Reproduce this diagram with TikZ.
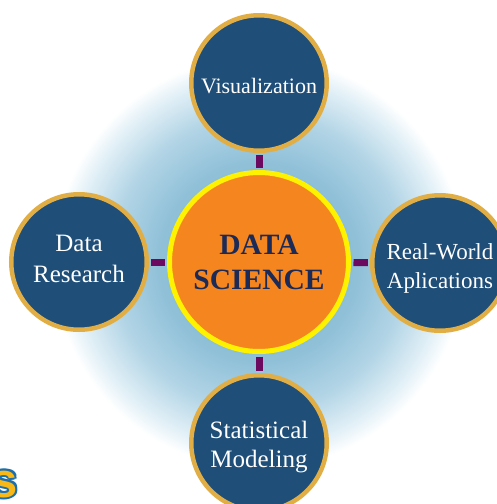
\documentclass[tikz,border=0pt]{standalone}
\usepackage{fontspec}
\setmainfont{Liberation Serif}
\newfontfamily\sansbold{Liberation Sans}[BoldFont={Liberation Sans Bold}]
\definecolor{nodeblue}{HTML}{1F4E78}
\definecolor{ringgold}{HTML}{E1AE46}
\definecolor{coreorange}{HTML}{F5861F}
\definecolor{coreyellow}{HTML}{FFF200}
\definecolor{linkpurple}{HTML}{6B0A5E}
\definecolor{navytext}{HTML}{1B2A56}
\definecolor{glowa}{HTML}{7FB5D1}
\definecolor{glowb}{HTML}{8FC0D8}
\definecolor{glowc}{HTML}{B3D5E6}
\definecolor{glowd}{HTML}{E6F2F8}
\definecolor{sgold}{HTML}{F7B818}
\definecolor{sblue}{HTML}{1B6FAE}
\pgfdeclareradialshading{glow}{\pgfpoint{0bp}{0bp}}{color(0bp)=(glowa); color(12bp)=(glowb); color(18bp)=(glowc); color(23bp)=(glowd); color(25bp)=(white); color(50bp)=(white)}
\newcommand{\lowered}[2]{\raisebox{-#1}[\height][\depth]{#2}}
\tikzset{
  topic/.style={circle, fill=nodeblue, draw=ringgold, line width=4.5pt, minimum size=135.5pt, inner sep=0pt, text=white, align=center},
  core/.style={circle, fill=coreorange, draw=coreyellow, line width=5pt, minimum size=179pt, inner sep=0pt, text=navytext, align=center, font=\fontsize{29.5}{35}\selectfont\bfseries},
  link/.style={draw=linkpurple, line width=7pt, shorten >=2.2pt, shorten <=2.5pt},
  sglyph/.style={inner sep=0pt, anchor=base east, font=\fontsize{49}{49}\selectfont\sansbold\bfseries}
}
\begin{document}
\begin{tikzpicture}[x=1pt,y=-1pt]
\useasboundingbox (0,0) rectangle (497,504);
\clip (0,0) rectangle (497,504);
\fill[white] (0,0) rectangle (497,504);
\shade[shading=glow] (259,262) circle (206);
\node[core] (ds) at (259,262) {DATA\\SCIENCE};
\node[topic, font=\fontsize{22}{30}\selectfont] (vis) at (259,83) {\lowered{3pt}{Visualization}};
\node[topic, font=\fontsize{25}{32}\selectfont] (res) at (79,262) {\lowered{-1pt}{\begin{tabular}{@{}c@{}}Data\\[-1pt]Research\end{tabular}}};
\node[topic, font=\fontsize{23}{30.5}\selectfont] (app) at (440,263) {\lowered{5pt}{\begin{tabular}{@{}c@{}}Real-World\\[-2pt]Aplications\end{tabular}}};
\node[topic, font=\fontsize{25}{30.5}\selectfont] (mod) at (259,443) {\lowered{4pt}{\begin{tabular}{@{}c@{}}Statistical\\[-1pt]Modeling\end{tabular}}};
\draw[link] (ds) -- (vis);
\draw[link] (ds) -- (res);
\draw[link] (ds) -- (app);
\draw[link] (ds) -- (mod);
\foreach \dx/\dy in {-2/0,2/0,0/-2,0/2,-1.5/-1.5,1.5/-1.5,-1.5/1.5,1.5/1.5}{
  \node[sglyph, text=sblue] at (18+\dx,497+\dy) {s};
}
\node[sglyph, text=sgold] (sl) at (18,497) {s};
\end{tikzpicture}
\end{document}
